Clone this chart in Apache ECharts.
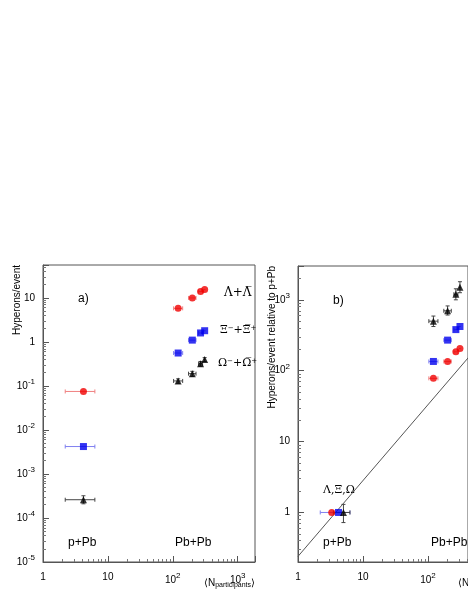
<!DOCTYPE html><html><head><meta charset="utf-8"><script src="https://cdn.jsdelivr.net/npm/echarts@6/dist/echarts.min.js"></script>
<style>html,body{margin:0;background:#fff}#c{width:468px;height:605px}</style></head><body><div id="c"></div><script>
// [x, y, xlo, xhi, ylo, yhi]
const lamA=[[4.2,0.075,2.2,6.3,0.075,0.075],[121,5.8,103,142,5.8,5.8],[200,10,175,228,10,10],[268,14,250,288,14,14],[310,15.5,300,320,15.5,15.5]];
const xiA=[[4.2,0.0042,2.2,6.3,0.0042,0.0042],[121,0.56,103,142,0.56,0.56],[200,1.1,175,228,1.1,1.1],[268,1.6,250,288,1.6,1.6],[310,1.8,300,320,1.8,1.8]];
const omA=[[4.2,0.00026,2.2,6.3,0.00021,0.00032],[121,0.13,103,142,0.115,0.145],[200,0.19,175,228,0.165,0.215],[268,0.32,250,288,0.28,0.36],[310,0.4,300,320,0.36,0.44]];
const lamB=[[3.3,1,3.3,3.3,1,1],[121,78,103,142,78,78],[200,135,175,228,135,135],[268,185,250,288,185,185],[310,205,300,320,205,205]];
const xiB=[[4.2,1,2.2,6.3,1,1],[121,135,103,142,135,135],[200,270,175,228,270,270],[268,380,250,288,380,380],[310,420,300,320,420,420]];
const omB=[[5,1,3.5,6.3,0.72,1.3],[121,500,103,142,420,590],[200,700,175,228,610,820],[268,1200,250,288,1000,1430],[310,1500,300,320,1260,1800]];
const refLine=[[1,0.24],[2000,820]];

function sup(v){const e=Math.round(Math.log10(v));if(e===0)return '1';if(e===1)return '10';return '10{s|'+e+'}';}
const rich={s:{fontSize:8,verticalAlign:'top',padding:[0,0,8,0],fontFamily:'Liberation Sans'}};
function errSeries(data,xi,yi,col){return {type:'custom',xAxisIndex:xi,yAxisIndex:yi,data:data,z:2,clip:true,
 renderItem:(p,api)=>{const c=api.coord([api.value(0),api.value(1)]);const l=api.coord([api.value(2),api.value(1)]);const r=api.coord([api.value(3),api.value(1)]);
 const lo=api.coord([api.value(0),api.value(4)]);const hi=api.coord([api.value(0),api.value(5)]);const st={stroke:col,lineWidth:1};
 const ch=[{type:'line',shape:{x1:l[0],y1:c[1],x2:r[0],y2:c[1]},style:st}];
 if(r[0]-l[0]>2){ch.push({type:'line',shape:{x1:l[0],y1:c[1]-2,x2:l[0],y2:c[1]+2},style:st},{type:'line',shape:{x1:r[0],y1:c[1]-2,x2:r[0],y2:c[1]+2},style:st});}
 if(lo[1]-hi[1]>1){ch.push({type:'line',shape:{x1:c[0],y1:lo[1],x2:c[0],y2:hi[1]},style:st},{type:'line',shape:{x1:c[0]-2,y1:lo[1],x2:c[0]+2,y2:lo[1]},style:st},{type:'line',shape:{x1:c[0]-2,y1:hi[1],x2:c[0]+2,y2:hi[1]},style:st});}
 return {type:'group',children:ch};}};}
function pts(data,xi,yi,sym,col,size){return {type:'scatter',xAxisIndex:xi,yAxisIndex:yi,data:data.map(d=>[d[0],d[1]]),symbol:sym,symbolSize:size,itemStyle:{color:col},z:3};}
const ax={axisLine:{lineStyle:{color:'#555'}},axisTick:{inside:true,length:6,lineStyle:{color:'#555'}},minorTick:{show:true,splitNumber:9,length:3,lineStyle:{color:'#777'}},splitLine:{show:false},axisLabel:{color:'#000',fontSize:10,fontFamily:'Liberation Sans',rich:rich}};
function xA(gi,max){return Object.assign({},ax,{type:'log',gridIndex:gi,min:1,max:max,logBase:10,axisLabel:Object.assign({},ax.axisLabel,{formatter:sup,margin:10,showMaxLabel:false})});}
function yA(gi,min,max){return Object.assign({},ax,{type:'log',gridIndex:gi,min:min,max:max,logBase:10,axisLabel:Object.assign({},ax.axisLabel,{formatter:v=>{const e=Math.log10(v);if(Math.abs(e-Math.round(e))>1e-6)return '';return sup(v);}})});}
const ch=echarts.init(document.getElementById('c'));
const F='Liberation Sans';
ch.setOption({animation:false,
grid:[{left:43,top:265,width:212,height:297,show:true,borderColor:'#555',borderWidth:1},{left:298,top:266,width:170,height:296,show:true,borderColor:'#555',borderWidth:1}],
xAxis:[xA(0,1850),xA(1,412)],
yAxis:[yA(0,1e-5,56),yA(1,0.2,3000)],
series:[
 errSeries(lamA,0,0,'#f08080'),errSeries(xiA,0,0,'#8080f0'),errSeries(omA,0,0,'#444'),
 pts(lamA,0,0,'circle','#f00000',7),pts(xiA,0,0,'rect','#0000ee',7),pts(omA,0,0,'triangle','#000',7),
 {type:'line',xAxisIndex:1,yAxisIndex:1,data:refLine,symbol:'none',lineStyle:{color:'#555',width:1},z:1},
 errSeries(lamB,1,1,'#f08080'),errSeries(xiB,1,1,'#8080f0'),errSeries(omB,1,1,'#444'),
 pts(lamB,1,1,'circle','#f00000',7),pts(xiB,1,1,'rect','#0000ee',7),pts(omB,1,1,'triangle','#000',7)
],
graphic:[
 {type:'text',left:78,top:293,style:{text:'a)',font:'12px '+F}},
 {type:'text',left:333,top:295,style:{text:'b)',font:'12px '+F}},
 {type:'text',left:68,top:537,style:{text:'p+Pb',font:'12px '+F}},
 {type:'text',left:175,top:537,style:{text:'Pb+Pb',font:'12px '+F}},
 {type:'text',left:323,top:537,style:{text:'p+Pb',font:'12px '+F}},
 {type:'text',left:431,top:537,style:{text:'Pb+Pb',font:'12px '+F}},
 {type:'text',left:323,top:485,style:{text:'Λ,Ξ,Ω',font:'11px DejaVu Serif'}},
 {type:'text',left:224,top:287,style:{text:'Λ+Λ̅',font:'12px DejaVu Serif'}},
 {type:'text',left:220,top:325,style:{rich:{a:{font:'11px DejaVu Serif'},u:{font:'7px DejaVu Serif',verticalAlign:'top'}},text:'{a|Ξ}{u|−}{a|+Ξ̅}{u|+}'}},
 {type:'text',left:218,top:358,style:{rich:{a:{font:'11px DejaVu Serif'},u:{font:'7px DejaVu Serif',verticalAlign:'top'}},text:'{a|Ω}{u|−}{a|+Ω̅}{u|+}'}},
 {type:'text',left:204,top:578,style:{rich:{a:{font:'10px '+F},b:{font:'7px '+F,padding:[5,0,0,0]}},text:'{a|⟨N}{b|participants}{a|⟩}'}},
 {type:'text',left:458,top:578,style:{text:'⟨N',font:'10px '+F}},
 {type:'text',x:22,y:265,rotation:Math.PI/2,style:{text:'Hyperons/event',font:'10px '+F,align:'right',verticalAlign:'bottom'}},
 {type:'text',x:277,y:266,rotation:Math.PI/2,style:{text:'Hyperons/event relative to p+Pb',font:'10px '+F,align:'right',verticalAlign:'bottom'}}
]});
</script></body></html>
